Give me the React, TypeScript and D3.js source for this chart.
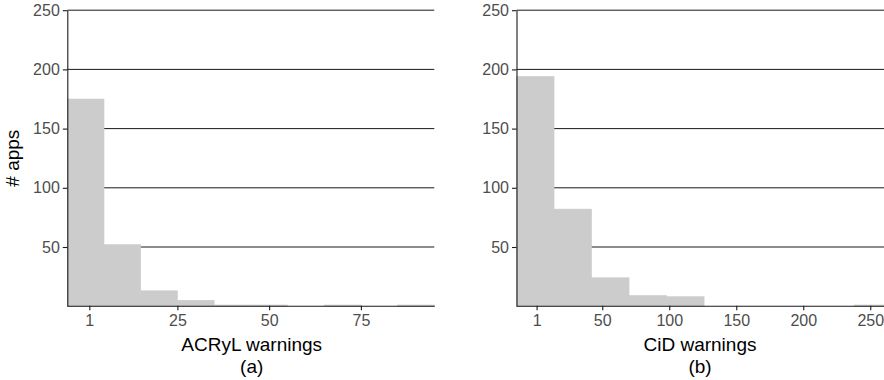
import React, { useEffect, useRef } from 'react';
import * as d3 from 'd3';

const width = 884;
const height = 380;

// ACRyL histogram (bin centres, binwidth 10)
const acrylBins = [0, 10, 20, 30, 40, 50, 60, 70, 80, 90];
const acrylCounts = [175, 52, 13, 5, 1, 1, 0, 1, 0, 1];
const acrylTicks = [1, 25, 50, 75];

// CiD histogram (bin centres, binwidth 28)
const cidBins = [0, 28, 56, 84, 112, 140, 168, 196, 224, 252];
const cidCounts = [194, 82, 24, 9, 8, 0, 0, 0, 0, 1];
const cidTicks = [1, 50, 100, 150, 200, 250];

const yTicks = [50, 100, 150, 200, 250];

const panels = [
  { bins: acrylBins, counts: acrylCounts, binWidth: 10, ticks: acrylTicks, domain: [-5, 95], range: [67.3, 434.3], title: 'ACRyL warnings', sub: '(a)', cx: 251.7 },
  { bins: cidBins, counts: cidCounts, binWidth: 28, ticks: cidTicks, domain: [-14, 266], range: [516.5, 891.7], title: 'CiD warnings', sub: '(b)', cx: 700 },
];

const font = "'Liberation Sans', Arial, sans-serif";

function App() {
  const ref = useRef<SVGSVGElement>(null);

  useEffect(() => {
    const svg = d3.select(ref.current);
    svg.selectAll('*').remove();

    const y = d3.scaleLinear().domain([0, 250]).range([306.2, 10.2]);

    panels.forEach((p) => {
      const x = d3.scaleLinear().domain(p.domain).range(p.range);
      const g = svg.append('g');

      // grid lines
      g.selectAll('line.grid')
        .data(yTicks)
        .enter()
        .append('line')
        .attr('x1', p.range[0])
        .attr('x2', p.range[1])
        .attr('y1', (d) => y(d))
        .attr('y2', (d) => y(d))
        .attr('stroke', '#1a1a1a')
        .attr('stroke-width', 1);

      // bars
      g.selectAll('rect')
        .data(p.bins.map((b, j) => ({ b, c: p.counts[j] })).filter((d) => d.c > 0))
        .enter()
        .append('rect')
        .attr('x', (d) => x(d.b - p.binWidth / 2))
        .attr('width', (d) => x(d.b + p.binWidth / 2) - x(d.b - p.binWidth / 2))
        .attr('y', (d) => y(d.c))
        .attr('height', (d) => y(0) - y(d.c))
        .attr('fill', '#cccccc')
        .attr('stroke', '#cccccc')
        .attr('stroke-width', 0.6);

      // x axis
      const xa = g
        .append('g')
        .attr('transform', `translate(0, ${y(0) - 0.5})`)
        .call(d3.axisBottom(x).tickValues(p.ticks).tickSize(4.5).tickSizeOuter(0).tickPadding(4));
      xa.select('.domain').attr('stroke', '#1a1a1a').attr('stroke-width', 1.1);
      xa.selectAll('.tick line').attr('stroke', '#1a1a1a').attr('stroke-width', 1.1);
      xa.selectAll('.tick text').attr('fill', '#4d4d4d').style('font-size', '16px').style('font-family', font);

      // y axis
      const ya = g
        .append('g')
        .attr('transform', `translate(${p.range[0]}, 0)`)
        .call(d3.axisLeft(y).tickValues(yTicks).tickSize(4.5).tickSizeOuter(0).tickPadding(3));
      ya.select('.domain').attr('stroke', '#1a1a1a').attr('stroke-width', 1.1);
      ya.selectAll('.tick line').attr('stroke', '#1a1a1a').attr('stroke-width', 1.1);
      ya.selectAll('.tick text').attr('fill', '#4d4d4d').style('font-size', '16px').style('font-family', font);

      g.append('text')
        .attr('x', p.cx)
        .attr('y', 350.7)
        .attr('text-anchor', 'middle')
        .style('font-family', font)
        .style('font-size', '19px')
        .attr('fill', '#000')
        .text(p.title);
      g.append('text')
        .attr('x', p.cx)
        .attr('y', 372.5)
        .attr('text-anchor', 'middle')
        .style('font-family', font)
        .style('font-size', '19px')
        .attr('fill', '#000')
        .text(p.sub);
    });

    svg
      .append('text')
      .attr('transform', `translate(18.5, ${(y(0) + y(250)) / 2}) rotate(-90)`)
      .attr('text-anchor', 'middle')
      .style('font-family', font)
      .style('font-size', '19px')
      .attr('fill', '#000')
      .text('# apps');
  }, []);

  return (
    <svg
      ref={ref}
      width={width}
      height={height}
      style={{ position: 'absolute', left: 0, top: 0, background: '#fff' }}
    />
  );
}

export default App;
